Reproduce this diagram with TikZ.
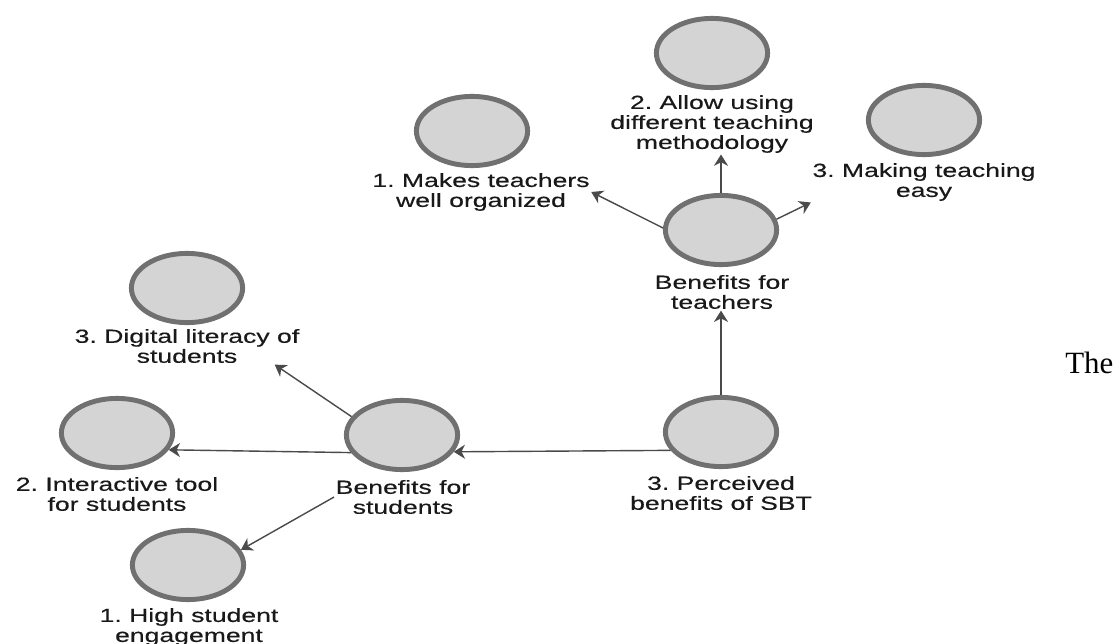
\documentclass[tikz,border=0pt]{standalone}
\usepackage{fontspec}
\newfontfamily\lblfont{Liberation Sans}[FakeStretch=1.4, FakeBold=0.4]
\newfontfamily\bodyfont{Liberation Serif}
\usetikzlibrary{shapes.geometric, arrows.meta, positioning}
\definecolor{ringgray}{HTML}{707070}
\definecolor{fillgray}{HTML}{D4D4D4}
\definecolor{arrgray}{HTML}{4A4A4A}
\frenchspacing

\begin{document}
\begin{tikzpicture}[x=0.025cm, y=-0.025cm,
		bubble/.style={ellipse, draw=ringgray, fill=fillgray, line width=3.5pt,
			minimum width=2.78cm, minimum height=1.73cm, inner sep=0pt},
		lbl/.style={align=center, inner sep=1pt, text=black!90,
			font=\lblfont\fontsize{13.5}{14.2}\selectfont},
		arr/.style={-{Stealth[length=8pt, width=10pt, inset=2.5pt]}, draw=arrgray, line width=1pt}]
			\useasboundingbox (0,0) rectangle (1119,644);
			
			% Draw the bubbles
			\node[bubble] (sbt) at (721,432) {};
			\node[bubble] (teach) at (721,230) {};
			\node[bubble] (allow) at (712,53) {};
			\node[bubble] (making) at (924,120) {};
			\node[bubble] (makes) at (472,131) {};
			\node[bubble] (stud) at (402,435) {};
			\node[bubble] (digital) at (187,288) {};
			\node[bubble] (inter) at (117,433) {};
			\node[bubble] (high) at (188,565) {};
			
			% Labels under the bubbles
			\node[lbl] (sbt-l) at (721,493) {3. Perceived\\benefits of SBT};
			\node[lbl] (teach-l) at (722,292) {Benefits for\\teachers};
			\node[lbl] (allow-l) at (712,124) {2. Allow using\\different teaching\\methodology};
			\node[lbl] (making-l) at (924,182) {3. Making teaching\\easy};
			\node[lbl] (makes-l) at (481,192) {1. Makes teachers\\well organized};
			\node[lbl] (stud-l) at (403,497) {Benefits for\\students};
			\node[lbl] (digital-l) at (187,346) {3. Digital literacy of\\students};
			\node[lbl] (inter-l) at (117,494) {2. Interactive tool\\for students};
			\node[lbl] (high-l) at (189,627) {1. High student\\engagement};
			
			% Text of the page on the right
			\node[anchor=base west, inner sep=0pt, font=\bodyfont\fontsize{22}{26}\selectfont] (the) at (1065,373) {The};
			
			% Draw the arrows
			\draw[arr] (sbt.200) -- (stud.-18);
			\draw[arr] (sbt.north) -- (sbt.north |- teach-l.south);
			\draw[arr] (teach.north) -- (teach.north |- allow-l.south);
			\draw[arr] (teach.11) -- (making-l.south west);
			\draw[arr] (teach.178) -- (makes-l.east);
			\draw[arr] (stud.160) -- (digital-l.-12);
			\draw[arr] (stud.199) -- (inter.-18);
			\draw[arr] (stud-l.west) -- (high.16);
	\end{tikzpicture}
\end{document}
